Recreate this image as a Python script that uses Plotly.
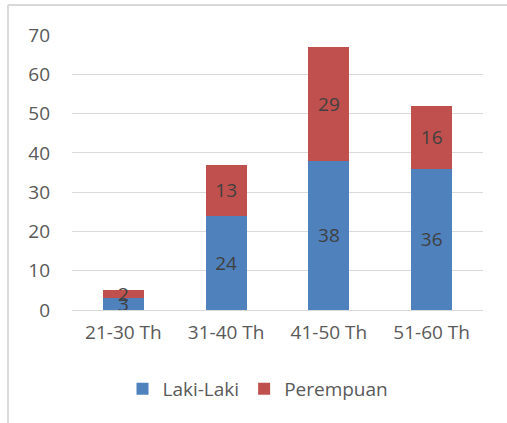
import plotly.graph_objects as go

categories = ["21-30 Th", "31-40 Th", "41-50 Th", "51-60 Th"]
laki = [3, 24, 38, 36]
perempuan = [2, 13, 29, 16]
y_ticks = [0, 10, 20, 30, 40, 50, 60, 70]

FONT = "Open Sans"
SIZE = 19
fig = go.Figure()
for name, vals, color in [("Laki-Laki", laki, "#4F81BD"), ("Perempuan", perempuan, "#C0504D")]:
    fig.add_trace(go.Bar(
        x=categories, y=vals, name=name, marker_color=color, marker_line_width=0,
        text=[str(v) for v in vals], textposition="inside", insidetextanchor="middle",
        textangle=0, constraintext="none",
        textfont=dict(family=FONT, size=SIZE, color="#404040"),
    ))

W, H = 507, 423
L, R, T, B = 72, 24, 35, 113
pw, ph = W - L - R, H - T - B

def px(x):
    return (x - L) / pw

def py(y):
    return (H - B - y) / ph

fig.update_layout(
    width=W, height=H, barmode="stack", bargap=0.6,
    margin=dict(l=L, r=R, t=T, b=B),
    paper_bgcolor="white", plot_bgcolor="white",
    font=dict(family=FONT, color="#595959", size=SIZE),
    showlegend=True,
    legend=dict(orientation="h", x=px(258), xanchor="center", y=py(389), yanchor="middle",
                font=dict(size=SIZE, color="#595959"), traceorder="normal"),
    xaxis=dict(showgrid=False, showline=True, linecolor="#D9D9D9", linewidth=1,
               ticks="", tickfont=dict(size=SIZE, color="#595959"), ticklabelstandoff=5),
    yaxis=dict(range=[0, 70], tickvals=y_ticks, showgrid=True, gridcolor="#D9D9D9",
               gridwidth=1, zeroline=False, ticks="", tickfont=dict(size=SIZE, color="#595959"),
               ticklabelstandoff=21),
    shapes=[
        dict(type="line", xref="paper", yref="paper", x0=px(8), x1=px(W + 5), y0=py(5), y1=py(5),
             line=dict(color="#D9D9D9", width=2)),
        dict(type="line", xref="paper", yref="paper", x0=px(8), x1=px(8), y0=py(5), y1=py(H + 5),
             line=dict(color="#D9D9D9", width=2)),
    ],
)
fig.write_html("out.html", config={"displayModeBar": False},
               post_script="document.body.style.margin='0';")
